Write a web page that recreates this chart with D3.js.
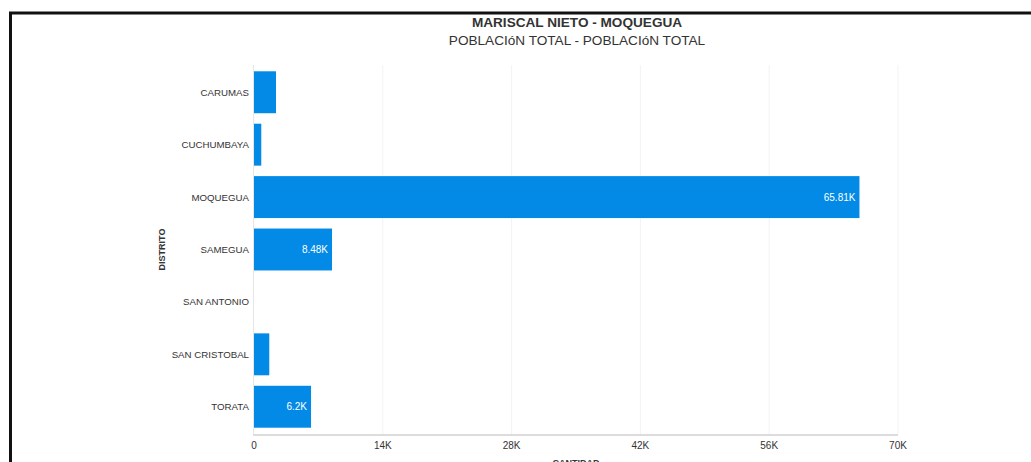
<!DOCTYPE html>
<html><head><meta charset="utf-8">
<script src="https://cdn.jsdelivr.net/npm/d3@7"></script>
<style>body{margin:0;background:#fff;}svg{display:block;font-family:"Liberation Sans",Arial,sans-serif;}</style>
</head><body>
<script>
const categories = ["CARUMAS","CUCHUMBAYA","MOQUEGUA","SAMEGUA","SAN ANTONIO","SAN CRISTOBAL","TORATA"];
const values = [2390, 790, 65810, 8480, 0, 1660, 6200];
const tickValues = [0, 14000, 28000, 42000, 56000, 70000];
const title = "MARISCAL NIETO - MOQUEGUA";
const subtitle = "POBLACIóN TOTAL - POBLACIóN TOTAL";

(function () {
const W = 1031, H = 462;
const svg = d3.select("body").append("svg").attr("width", W).attr("height", H);
svg.append("rect").attr("x", 10.5).attr("y", 13).attr("width", 1040).attr("height", 470)
  .attr("fill", "none").attr("stroke", "#111").attr("stroke-width", 3);

const pL = 254, pR = 898, pT = 65, pB = 434;
const x = d3.scaleLinear().domain([0, 70000]).range([pL, pR]);
const y = d3.scaleBand().domain(categories).range([pT, pB]).paddingInner(0.2).paddingOuter(0.12);

// grid
svg.append("g").selectAll("line").data(tickValues.slice(1)).join("line")
  .attr("x1", d => x(d)).attr("x2", d => x(d)).attr("y1", pT).attr("y2", pB)
  .attr("stroke", "#f3f3f3").attr("stroke-width", 1);
svg.append("line").attr("x1", pL - 0.5).attr("x2", pL - 0.5).attr("y1", pT).attr("y2", pB)
  .attr("stroke", "#e6e6e6").attr("stroke-width", 1);
svg.append("line").attr("x1", pL - 1).attr("x2", pR).attr("y1", pB + 1).attr("y2", pB + 1)
  .attr("stroke", "#dcdcdc").attr("stroke-width", 2);

// bars
svg.append("g").selectAll("rect").data(categories).join("rect")
  .attr("x", x(0)).attr("y", d => y(d))
  .attr("width", (d, i) => x(values[i]) - x(0)).attr("height", y.bandwidth())
  .attr("fill", "#028ae6");

// value labels
const fmt = v => { const k = v / 1000; return (Math.round(k * 100) / 100) + "K"; };
svg.append("g").selectAll("text").data(categories.filter((d, i) => x(values[i]) - x(0) > 45)).join("text")
  .attr("x", d => x(values[categories.indexOf(d)]) - 4)
  .attr("y", d => y(d) + y.bandwidth() / 2 + 3.5)
  .attr("text-anchor", "end").attr("fill", "#fff").attr("font-size", 10)
  .text(d => fmt(values[categories.indexOf(d)]));

// category labels
svg.append("g").selectAll("text").data(categories).join("text")
  .attr("x", pL - 5).attr("y", d => y(d) + y.bandwidth() / 2 + 3.5)
  .attr("text-anchor", "end").attr("fill", "#333").attr("font-size", 9.7).text(d => d);

// x tick labels
svg.append("g").selectAll("text").data(tickValues).join("text")
  .attr("x", d => x(d)).attr("y", 449).attr("text-anchor", "middle")
  .attr("fill", "#333").attr("font-size", 10).text(d => d === 0 ? "0" : (d / 1000) + "K");

// axis titles
svg.append("text").attr("transform", `translate(165,${(pT + pB) / 2}) rotate(-90)`)
  .attr("text-anchor", "middle").attr("font-size", 9).attr("font-weight", "bold").attr("fill", "#333").text("DISTRITO");
svg.append("text").attr("x", (pL + pR) / 2).attr("y", 466).attr("text-anchor", "middle")
  .attr("font-size", 9).attr("font-weight", "bold").attr("fill", "#333").text("CANTIDAD");

// titles
svg.append("text").attr("x", (pL + pR) / 2 + 1).attr("y", 27).attr("text-anchor", "middle")
  .attr("font-size", 13.6).attr("font-weight", "bold").attr("fill", "#333").text(title);
svg.append("text").attr("x", (pL + pR) / 2 + 1).attr("y", 45).attr("text-anchor", "middle")
  .attr("font-size", 13.6).attr("fill", "#333").text(subtitle);
})();
</script>
</body></html>
